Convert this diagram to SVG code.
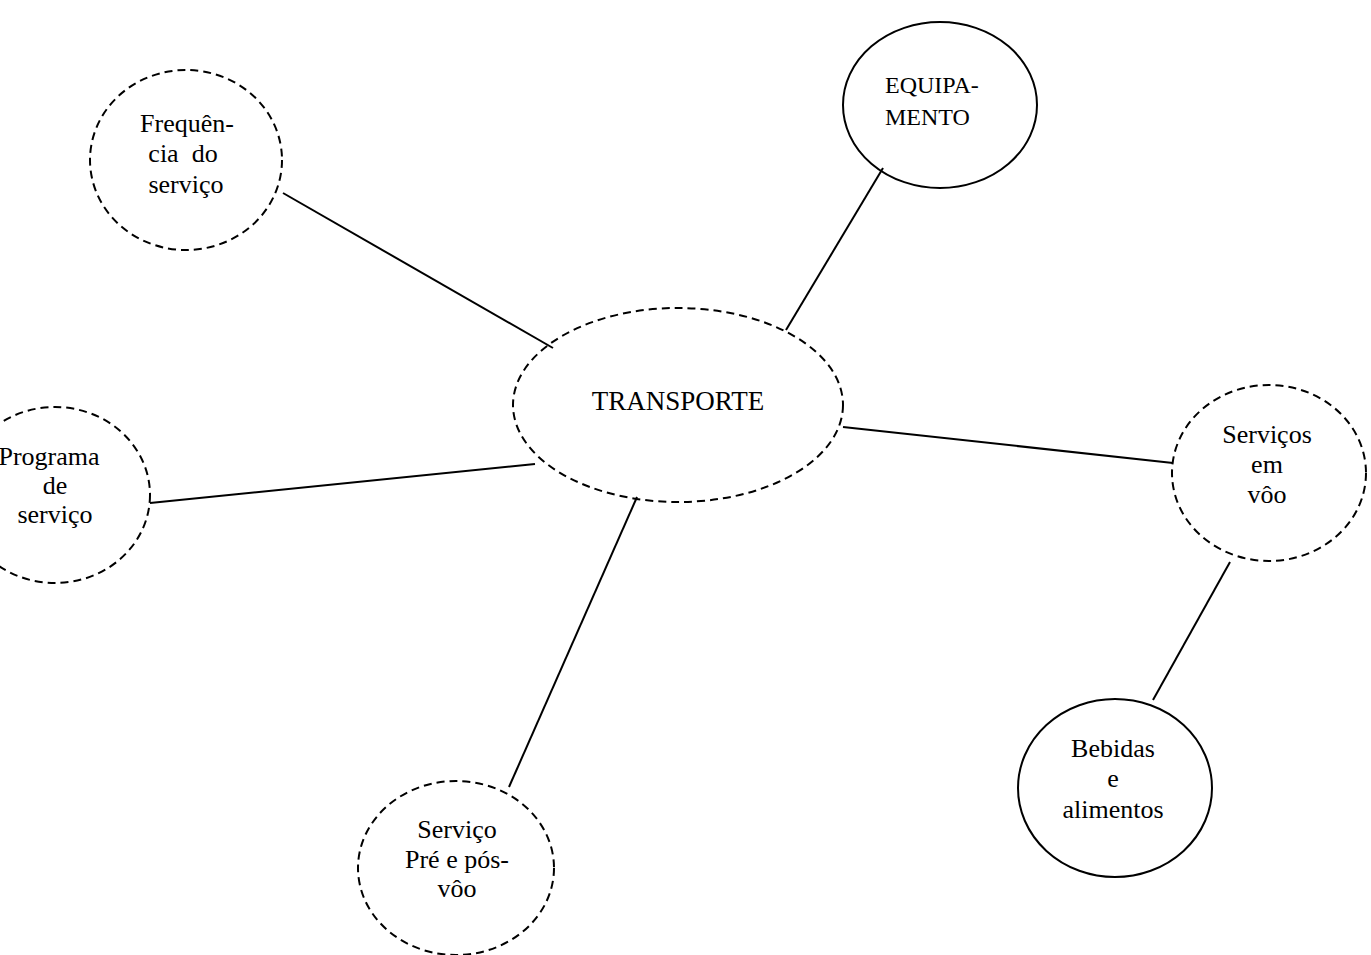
<svg xmlns="http://www.w3.org/2000/svg" width="1371" height="955" viewBox="0 0 1371 955">
<style>
.n{fill:none;stroke:#000;stroke-width:2}
.d{stroke-dasharray:8 5}
.t{font-family:"Liberation Serif","Times New Roman",serif;font-size:26px;fill:#000;text-anchor:middle}
.c line{stroke:#000;stroke-width:2}
</style>
<rect width="1371" height="955" fill="#fff"/>
<g class="c" id="connectors">
<line x1="283" y1="193" x2="553" y2="348"/>
<line x1="883" y1="168" x2="786" y2="330"/>
<line x1="150" y1="503" x2="535" y2="464"/>
<line x1="843" y1="427" x2="1173" y2="463"/>
<line x1="637" y1="497" x2="509" y2="787"/>
<line x1="1230" y1="562" x2="1153" y2="700"/>
</g>
<g id="transporte">
<ellipse class="n d" cx="678" cy="405" rx="165" ry="97"/>
<text class="t" x="678" y="410" style="font-size:27px">TRANSPORTE</text>
</g>
<g id="frequencia">
<ellipse class="n d" cx="186" cy="160" rx="96" ry="90"/>
<text class="t" x="187" y="132">Frequên-</text>
<text class="t" x="183" y="162" xml:space="preserve">cia  do</text>
<text class="t" x="186" y="193">serviço</text>
</g>
<g id="equipamento">
<ellipse class="n" cx="940" cy="105" rx="97" ry="83"/>
<text class="t" x="885" y="93" style="text-anchor:start;font-size:24px">EQUIPA-</text>
<text class="t" x="885" y="125" style="text-anchor:start;font-size:24px">MENTO</text>
</g>
<g id="programa">
<ellipse class="n d" cx="55" cy="495" rx="95" ry="88"/>
<text class="t" x="49" y="465">Programa</text>
<text class="t" x="55" y="494">de</text>
<text class="t" x="55" y="523">serviço</text>
</g>
<g id="servicos-voo">
<ellipse class="n d" cx="1269" cy="473" rx="97" ry="88"/>
<text class="t" x="1267" y="443">Serviços</text>
<text class="t" x="1267" y="473">em</text>
<text class="t" x="1267" y="503">vôo</text>
</g>
<g id="bebidas">
<ellipse class="n" cx="1115" cy="788" rx="97" ry="89"/>
<text class="t" x="1113" y="757">Bebidas</text>
<text class="t" x="1113" y="787">e</text>
<text class="t" x="1113" y="818">alimentos</text>
</g>
<g id="servico-pre">
<ellipse class="n d" cx="456" cy="868" rx="98" ry="87"/>
<text class="t" x="457" y="838">Serviço</text>
<text class="t" x="457" y="868">Pré e pós-</text>
<text class="t" x="457" y="897">vôo</text>
</g>
</svg>
